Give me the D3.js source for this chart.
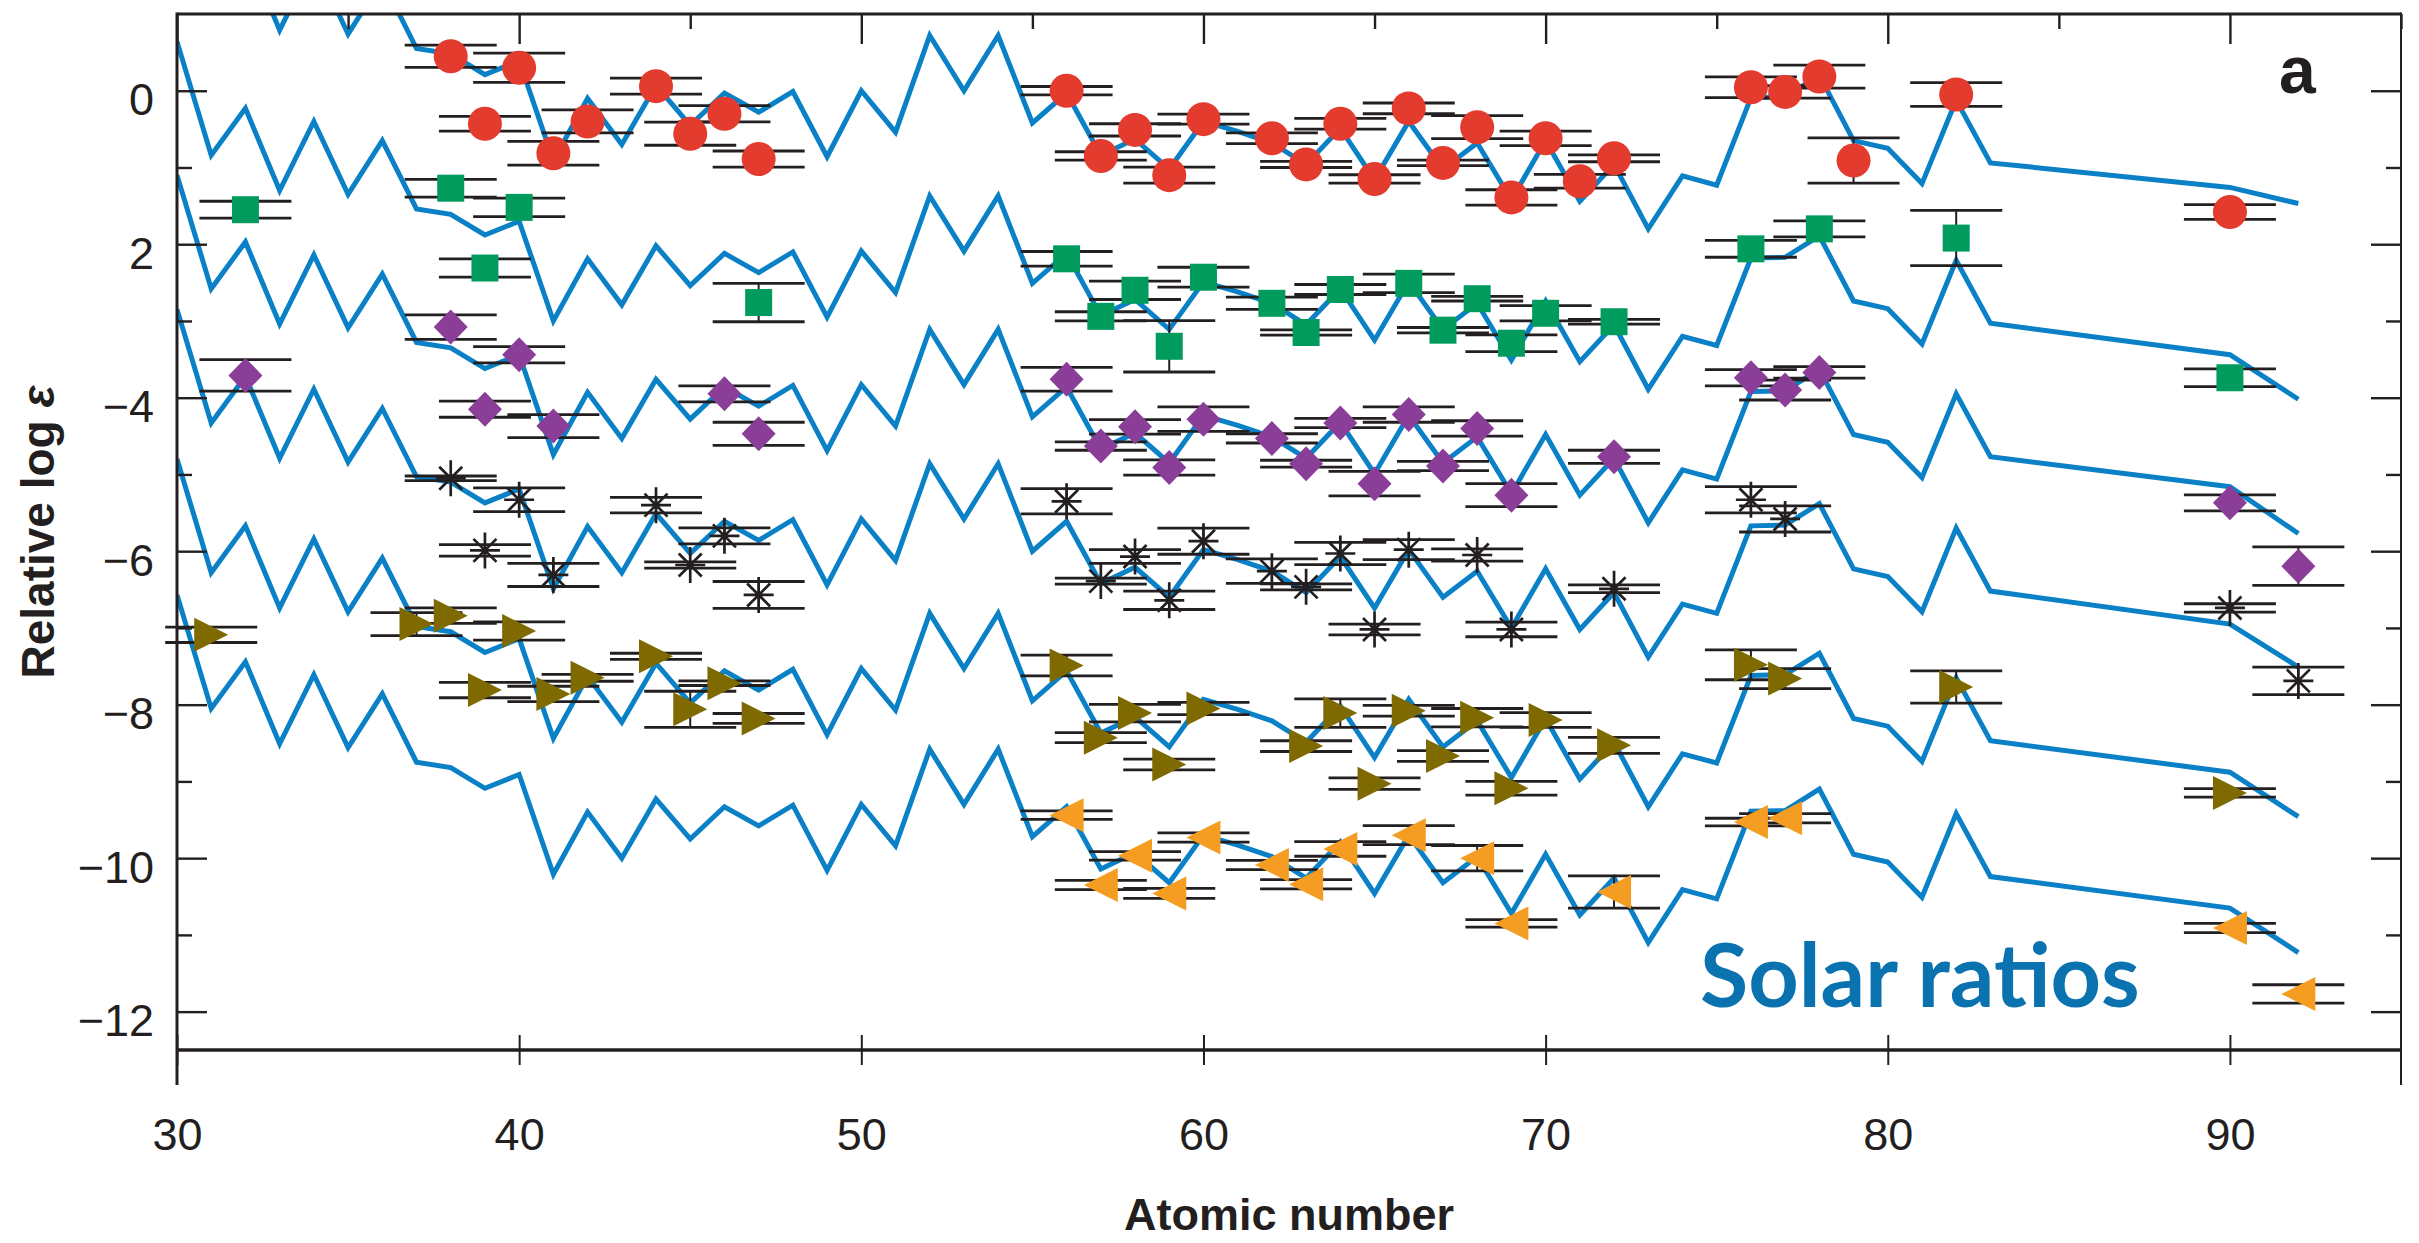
<!DOCTYPE html>
<html>
<head>
<meta charset="utf-8">
<script src="https://cdn.jsdelivr.net/npm/d3@7"></script>
<style>
  html, body { margin: 0; padding: 0; background: #fff; }
  svg { display: block; }
  .tick text { font-family: "Liberation Sans", Arial, Helvetica, sans-serif; }
</style>
</head>
<body>
<svg id="chart" width="2419" height="1243"></svg>
<script>
const width = 2419;
const height = 1243;

// solar pattern (relative log eps), Z = 30..83
const solarZ = [30, 31, 32, 33, 34, 35, 36, 37, 38, 39, 40, 41, 42, 43, 44, 45, 46, 47, 48, 49,
    50, 51, 52, 53, 54, 55, 56, 57, 58, 59, 60, 61, 62, 63, 64, 65, 66, 67, 68, 69,
    70, 71, 72, 73, 74, 75, 76, 77, 78, 79, 80, 81, 82, 83];
const solarLog = [0.64, -0.84, -0.23, -1.30, -0.40, -1.35, -0.65, -1.54, -1.61, -1.88,
    -1.70, -3.00, -2.19, -2.79, -2.02, -2.54, -2.12, -2.37, -2.10, -2.95,
    -2.09, -2.63, -1.37, -2.09, -1.37, -2.51, -2.12, -2.93, -2.72, -3.11,
    -2.49, -2.62, -2.77, -3.05, -2.58, -3.25, -2.49, -3.11, -2.77, -3.51,
    -2.74, -3.53, -3.05, -3.89, -3.20, -3.32, -2.18, -2.17, -1.89, -2.74,
    -2.84, -3.30, -2.21, -3.03];
// shift of each scaled solar curve, top to bottom
const lineShift = [2.09, 0, -1.74, -3.49, -5.44, -7.21];
// Th (Z=90) and U (Z=92) ends of each curve
const lineTh = [-1.26, -3.44, -5.16, -6.95, -8.88, -10.65];
const lineU = [-1.47, -4.02, -5.77, -7.51, -9.46, -11.23];

// stars (markers with error bars)
const redZ = [38, 39, 40, 41, 42, 44, 45, 46, 47, 56, 57, 58, 59, 60, 62, 63, 64, 65, 66, 67, 68, 69, 70, 71, 72, 76, 77, 78, 79, 82, 90];
const redVal = [0.45, -0.43, 0.30, -0.815, -0.40, 0.06, -0.56, -0.30, -0.89, 0.0, -0.85, -0.51, -1.10, -0.37, -0.62, -0.96, -0.43, -1.15, -0.23, -0.94, -0.475, -1.39, -0.62, -1.18, -0.88, 0.045, -0.015, 0.185, -0.91, -0.05, -1.58];
const redErr = [0.145, 0.095, 0.19, 0.155, 0.15, 0.105, 0.15, 0.105, 0.105, 0.055, 0.055, 0.08, 0.105, 0.065, 0.07, 0.04, 0.07, 0.055, 0.07, 0.035, 0.15, 0.10, 0.095, 0.09, 0.045, 0.135, 0.08, 0.15, 0.295, 0.155, 0.095];

const greenZ = [32, 38, 39, 40, 47, 56, 57, 58, 59, 60, 62, 63, 64, 66, 67, 68, 69, 70, 72, 76, 78, 82, 90];
const greenVal = [-1.55, -1.27, -2.31, -1.52, -2.76, -2.19, -2.94, -2.60, -3.33, -2.43, -2.77, -3.15, -2.59, -2.51, -3.12, -2.71, -3.29, -2.90, -3.01, -2.06, -1.80, -1.92, -3.74];
const greenErr = [0.11, 0.115, 0.12, 0.12, 0.25, 0.095, 0.06, 0.12, 0.335, 0.13, 0.08, 0.035, 0.065, 0.12, 0.035, 0.03, 0.11, 0.10, 0.03, 0.11, 0.105, 0.36, 0.115];

const purpleZ = [32, 38, 39, 40, 41, 46, 47, 56, 57, 58, 59, 60, 62, 63, 64, 65, 66, 67, 68, 69, 72, 76, 77, 78, 90, 92];
const purpleVal = [-3.71, -3.08, -4.15, -3.44, -4.37, -3.95, -4.47, -3.76, -4.63, -4.38, -4.91, -4.28, -4.53, -4.86, -4.33, -5.12, -4.22, -4.89, -4.40, -5.27, -4.77, -3.74, -3.90, -3.67, -5.37, -6.195];
const purpleErr = [0.205, 0.16, 0.105, 0.105, 0.15, 0.105, 0.15, 0.155, 0.055, 0.095, 0.10, 0.16, 0.06, 0.045, 0.06, 0.16, 0.10, 0.06, 0.10, 0.15, 0.085, 0.105, 0.13, 0.075, 0.105, 0.25];

const starZ = [38, 39, 40, 41, 44, 45, 46, 47, 56, 57, 58, 59, 60, 62, 63, 64, 65, 66, 68, 69, 72, 76, 77, 90, 92];
const starVal = [-5.05, -5.99, -5.33, -6.31, -5.40, -6.18, -5.80, -6.57, -5.35, -6.39, -6.07, -6.64, -5.87, -6.26, -6.465, -6.03, -7.02, -5.98, -6.05, -7.02, -6.49, -5.33, -5.58, -6.74, -7.69];
const starErr = [0.03, 0.075, 0.155, 0.15, 0.10, 0.04, 0.105, 0.175, 0.165, 0.04, 0.09, 0.12, 0.17, 0.16, 0.04, 0.145, 0.07, 0.13, 0.08, 0.095, 0.05, 0.17, 0.17, 0.055, 0.18];

const oliveZ = [31, 37, 38, 39, 40, 41, 42, 44, 45, 46, 47, 56, 57, 58, 59, 60, 63, 64, 65, 66, 67, 68, 69, 70, 72, 76, 77, 82, 90];
const oliveVal = [-7.09, -6.95, -6.84, -7.81, -7.04, -7.86, -7.65, -7.37, -8.06, -7.72, -8.18, -7.49, -8.43, -8.11, -8.78, -8.05, -8.54, -8.11, -9.03, -8.08, -8.67, -8.17, -9.09, -8.20, -8.53, -7.48, -7.66, -7.77, -9.15];
const oliveErr = [0.10, 0.15, 0.10, 0.10, 0.12, 0.10, 0.045, 0.04, 0.235, 0.03, 0.065, 0.135, 0.065, 0.115, 0.07, 0.08, 0.07, 0.185, 0.075, 0.07, 0.07, 0.12, 0.09, 0.095, 0.105, 0.195, 0.13, 0.21, 0.055];

const orangeZ = [56, 57, 58, 59, 60, 62, 63, 64, 66, 68, 69, 72, 76, 77, 90, 92];
const orangeVal = [-9.44, -10.35, -9.97, -10.46, -9.73, -10.09, -10.34, -9.88, -9.70, -10.00, -10.85, -10.44, -9.53, -9.48, -10.91, -11.77];
const orangeErr = [0.055, 0.06, 0.055, 0.065, 0.06, 0.06, 0.06, 0.095, 0.125, 0.165, 0.05, 0.21, 0.05, 0.06, 0.06, 0.12];

const xTicks = [30, 40, 50, 60, 70, 80, 90];
const xMinorTicks = [35, 45, 55, 65, 75, 85, 95];
const yTicks = [0, -2, -4, -6, -8, -10, -12];
const yTickLabels = ["0", "2", "\u22124", "\u22126", "\u22128", "\u221210", "\u221212"];
const yMinorTicks = [-1, -3, -5, -7, -9, -11];

const ink = "#231f20";
const lineBlue = "#0a80c6";
const fontFamily = "'Liberation Sans', Arial, Helvetica, sans-serif";

const plot = {left: 177, right: 2401, top: 14, bottom: 1050};

const xScale = d3.scaleLinear().domain([30, 95]).range([plot.left, plot.right]);
const yScale = d3.scaleLinear().domain([-12.5, 1]).range([plot.bottom, plot.top]);

const svg = d3.select("#chart");
svg.append("rect").attr("width", width).attr("height", height).attr("fill", "#fff");

svg.append("clipPath").attr("id", "plotClip")
    .append("rect")
    .attr("x", plot.left).attr("y", plot.top)
    .attr("width", plot.right - plot.left).attr("height", plot.bottom - plot.top);

// ---- scaled solar curves
const curves = lineShift.map(function (s, i) {
    const pts = solarZ.map(function (z, j) {
        return [z, solarLog[j] + s];
    });
    pts.push([90, lineTh[i]]);
    pts.push([92, lineU[i]]);
    return pts;
});

const line = d3.line()
    .x(function (d) { return xScale(d[0]); })
    .y(function (d) { return yScale(d[1]); });

svg.append("g").attr("clip-path", "url(#plotClip)")
    .selectAll("path").data(curves).enter()
    .append("path")
    .attr("d", line)
    .attr("fill", "none")
    .attr("stroke", lineBlue)
    .attr("stroke-width", 5)
    .attr("stroke-linejoin", "miter");

// ---- series
const series = [
    {z: redZ, v: redVal, e: redErr, kind: "circle", color: "#e43b2f"},
    {z: greenZ, v: greenVal, e: greenErr, kind: "square", color: "#009b5d"},
    {z: purpleZ, v: purpleVal, e: purpleErr, kind: "diamond", color: "#8a3e98"},
    {z: starZ, v: starVal, e: starErr, kind: "star", color: ink},
    {z: oliveZ, v: oliveVal, e: oliveErr, kind: "right", color: "#7e6a00"},
    {z: orangeZ, v: orangeVal, e: orangeErr, kind: "left", color: "#f49d22"}
];

function points(s) {
    return s.z.map(function (z, i) {
        return {z: z, v: s.v[i], e: s.e[i]};
    });
}

const capHalf = 46;
const errG = svg.append("g");
series.forEach(function (s) {
    const g = errG.append("g");
    const pts = points(s);
    g.selectAll("line.stem").data(pts).enter().append("line")
        .attr("class", "stem")
        .attr("x1", function (d) { return xScale(d.z); })
        .attr("x2", function (d) { return xScale(d.z); })
        .attr("y1", function (d) { return yScale(d.v + d.e); })
        .attr("y2", function (d) { return yScale(d.v - d.e); })
        .attr("stroke", ink).attr("stroke-width", 2);
    ["hi", "lo"].forEach(function (side) {
        g.selectAll("line.cap" + side).data(pts).enter().append("line")
            .attr("class", "cap" + side)
            .attr("x1", function (d) { return xScale(d.z) - capHalf; })
            .attr("x2", function (d) { return xScale(d.z) + capHalf; })
            .attr("y1", function (d) { return yScale(side === "hi" ? d.v + d.e : d.v - d.e); })
            .attr("y2", function (d) { return yScale(side === "hi" ? d.v + d.e : d.v - d.e); })
            .attr("stroke", ink).attr("stroke-width", 2.8);
    });
});

const symbolPath = {
    circle: d3.symbol().type(d3.symbolCircle).size(Math.PI * 17 * 17)(),
    square: d3.symbol().type(d3.symbolSquare).size(27 * 27)(),
    diamond: "M0,-17.5L17,0L0,17.5L-17,0Z",
    right: "M-17,-17L17,0L-17,17Z",
    left: "M17,-17L-17,0L17,17Z",
    star: "M0,-18V18M-15,0H15M-11.5,-11.5L11.5,11.5M-11.5,11.5L11.5,-11.5"
};

const markG = svg.append("g");
series.forEach(function (s) {
    markG.append("g").selectAll("path").data(points(s)).enter()
        .append("path")
        .attr("transform", function (d) {
            return "translate(" + xScale(d.z) + "," + yScale(d.v) + ")";
        })
        .attr("d", symbolPath[s.kind])
        .attr("fill", s.kind === "star" ? "none" : s.color)
        .attr("stroke", s.kind === "star" ? s.color : "none")
        .attr("stroke-width", 2.7);
});

// ---- axes
const axisG = svg.append("g");

const axBottom = axisG.append("g")
    .attr("transform", "translate(0," + plot.bottom + ")")
    .call(d3.axisBottom(xScale).tickValues(xTicks).tickSize(15).tickFormat(d3.format("d")));
axBottom.select(".domain").remove();
axBottom.selectAll(".tick line").attr("y1", -15).attr("y2", 15).attr("stroke", ink).attr("stroke-width", 2);
axBottom.selectAll(".tick text").attr("y", 100).attr("dy", null)
    .attr("font-size", 45).attr("fill", ink);

const axTop = axisG.append("g")
    .attr("transform", "translate(0," + plot.top + ")")
    .call(d3.axisTop(xScale).tickValues(xTicks).tickSize(-30).tickFormat(""));
axTop.select(".domain").remove();
axTop.selectAll(".tick line").attr("stroke", ink).attr("stroke-width", 2.4);

const axTopMinor = axisG.append("g")
    .attr("transform", "translate(0," + plot.top + ")")
    .call(d3.axisTop(xScale).tickValues(xMinorTicks).tickSize(-15).tickFormat(""));
axTopMinor.select(".domain").remove();
axTopMinor.selectAll(".tick line").attr("stroke", ink).attr("stroke-width", 2.4);

const axLeft = axisG.append("g")
    .attr("transform", "translate(" + plot.left + ",0)")
    .call(d3.axisLeft(yScale).tickValues(yTicks).tickSize(-30).tickPadding(23)
        .tickFormat(function (d, i) { return yTickLabels[i]; }));
axLeft.select(".domain").remove();
axLeft.selectAll(".tick line").attr("stroke", ink).attr("stroke-width", 2.4);
axLeft.selectAll(".tick text").attr("dy", 24).attr("font-size", 45).attr("fill", ink);

const axLeftMinor = axisG.append("g")
    .attr("transform", "translate(" + plot.left + ",0)")
    .call(d3.axisLeft(yScale).tickValues(yMinorTicks).tickSize(-15).tickFormat(""));
axLeftMinor.select(".domain").remove();
axLeftMinor.selectAll(".tick line").attr("stroke", ink).attr("stroke-width", 2.4);

const axRight = axisG.append("g")
    .attr("transform", "translate(" + plot.right + ",0)")
    .call(d3.axisRight(yScale).tickValues(yTicks).tickSize(-30).tickFormat(""));
axRight.select(".domain").remove();
axRight.selectAll(".tick line").attr("stroke", ink).attr("stroke-width", 2.4);

const axRightMinor = axisG.append("g")
    .attr("transform", "translate(" + plot.right + ",0)")
    .call(d3.axisRight(yScale).tickValues(yMinorTicks).tickSize(-15).tickFormat(""));
axRightMinor.select(".domain").remove();
axRightMinor.selectAll(".tick line").attr("stroke", ink).attr("stroke-width", 2.4);

// frame
axisG.append("line").attr("x1", plot.left).attr("x2", plot.right).attr("y1", plot.top).attr("y2", plot.top)
    .attr("stroke", ink).attr("stroke-width", 3);
axisG.append("line").attr("x1", plot.left).attr("x2", plot.right).attr("y1", plot.bottom).attr("y2", plot.bottom)
    .attr("stroke", ink).attr("stroke-width", 3.6);
axisG.append("line").attr("x1", plot.left).attr("x2", plot.left).attr("y1", plot.top - 1.5).attr("y2", plot.bottom + 35)
    .attr("stroke", ink).attr("stroke-width", 3);
axisG.append("line").attr("x1", plot.right).attr("x2", plot.right).attr("y1", plot.top - 1.5).attr("y2", plot.bottom + 35)
    .attr("stroke", ink).attr("stroke-width", 2);

// ---- titles
svg.append("text")
    .attr("x", (plot.left + plot.right) / 2).attr("y", 1230)
    .attr("text-anchor", "middle")
    .attr("font-family", fontFamily).attr("font-weight", "bold").attr("font-size", 45)
    .attr("fill", ink)
    .text("Atomic number");

const ylab = svg.append("text")
    .attr("transform", "translate(54," + (plot.top + plot.bottom) / 2 + ") rotate(-90)")
    .attr("text-anchor", "middle")
    .attr("font-family", fontFamily).attr("font-weight", "bold").attr("font-size", 46)
    .attr("fill", ink);
ylab.append("tspan").text("Relative log ");
ylab.append("tspan").attr("font-style", "italic").text("\u03b5");

svg.append("text")
    .attr("x", 2279).attr("y", 93)
    .attr("font-family", fontFamily).attr("font-weight", "bold").attr("font-size", 66)
    .attr("fill", ink)
    .text("a");

svg.append("text")
    .attr("x", 1700).attr("y", 1007)
    .attr("font-family", "Lato, 'Open Sans', sans-serif").attr("font-weight", "bold").attr("font-size", 88)
    .attr("fill", "#0b72b0")
    .text("Solar ratios");
</script>
</body>
</html>
